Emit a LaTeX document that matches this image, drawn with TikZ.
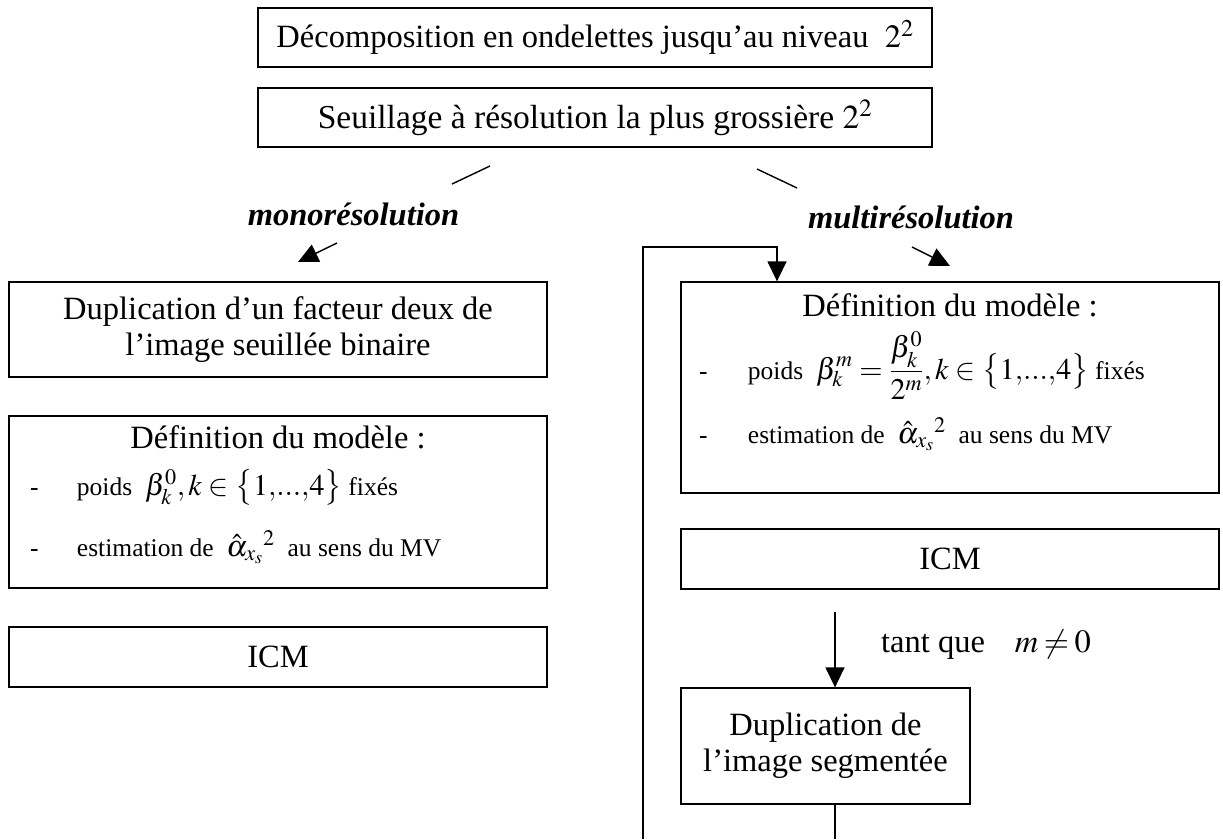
\documentclass[tikz,border=0pt]{standalone}
\usepackage{mathptmx}
\usepackage[no-math]{fontspec}
\setmainfont{Liberation Serif}
\usetikzlibrary{arrows.meta}
\newcommand\fA{\fontsize{32.5}{36}\selectfont}
\newcommand\fT{\fontsize{33.5}{37}\selectfont}
\newcommand\fB{\fontsize{25.5}{29}\selectfont}
\newcommand\fM{\fontsize{30}{33}\selectfont}
% a line whose baseline sits at a given distance; zero height and depth
\newcommand\defline[2]{\vskip#1\hbox{#2}}
\begin{document}
\begin{tikzpicture}[x=1pt,y=-1pt,
  box/.style={draw,line width=1.3pt,inner sep=0pt,align=center,font=\fA},
  txt/.style={inner sep=0pt,font=\fA},
  lbl/.style={inner sep=0pt,font=\fA\bfseries\itshape,anchor=base},
  ln/.style={line width=1.4pt},
  arr/.style={line width=1.4pt,-{Triangle[length=20pt,width=19pt]}}]
\useasboundingbox (0,0) rectangle (1223,839);
% top boxes
\node[box,minimum width=674pt,minimum height=59pt] (b1) at (595,37.5) {Décomposition en ondelettes jusqu’au niveau \ $2^2$};
\node[box,minimum width=674pt,minimum height=59pt,font=\fT] (b2) at (595,117.5) {Seuillage à résolution la plus grossière $2^2$};
% split lines
\coordinate (l1a) at (452,184); \coordinate (l1b) at (490,166);
\coordinate (r1a) at (757,169); \coordinate (r1b) at (797,188);
\draw[ln] (l1a) -- (l1b);
\draw[ln] (r1a) -- (r1b);
\node[lbl] (mono) at (353.5,225) {monorésolution};
\node[lbl] (multi) at (911,228) {multirésolution};
\coordinate (ma) at (337,243); \coordinate (mt) at (298,262);
\coordinate (pa) at (912,247); \coordinate (pt) at (950,266);
\draw[arr] (ma) -- (mt);
\draw[arr] (pa) -- (pt);
% left column
\node[box,minimum width=538pt,minimum height=95pt] (ldup) at (278,329.5) {Duplication d’un facteur deux de\\l’image seuillée binaire};
\node[box] (ldef) at (278,502) {\vbox to 172pt{\hsize=538pt\offinterlineskip
  \defline{32pt}{\hbox to 538pt{\hss\smash{\fA Définition du modèle :}\hss}}
  \defline{47pt}{\hskip21pt\smash{\fB\makebox[47pt][l]{-}poids \ {\fM$\beta_k^0, k\in\left\{\vphantom{\beta_k^0}1{,}...{,}4\right\}$} fixés}}
  \defline{61pt}{\hskip21pt\smash{\fB\makebox[47pt][l]{-}estimation de \ {\fM$\hat{\alpha}_{x_s}{}^{2}$} \ au sens du MV}}
  \vfil}};
\node[box,minimum width=538pt,minimum height=60pt] (licm) at (278,657) {ICM};
% right column
\node[box] (rdef) at (950,387.5) {\vbox to 211pt{\hsize=538pt\offinterlineskip
  \defline{34pt}{\hbox to 538pt{\hss\smash{\fA Définition du modèle :}\hss}}
  \defline{63pt}{\hskip18pt\smash{\fB\makebox[49pt][l]{-}poids \ {\fM$\displaystyle\beta_k^m=\frac{\beta_k^0}{2^m}, k\in\left\{\vphantom{\beta_k^0}1{,}...{,}4\right\}$} fixés}}
  \defline{64pt}{\hskip18pt\smash{\fB\makebox[49pt][l]{-}estimation de \ {\fM$\hat{\alpha}_{x_s}{}^{2}$} \ au sens du MV}}
  \vfil}};
\node[box,minimum width=538pt,minimum height=60pt] (ricm) at (950,559) {ICM};
\node[box,minimum width=289pt,minimum height=116pt] (rdup) at (825.5,746) {Duplication de\\l’image segmentée};
% tant que arrow
\coordinate (ts) at (835,612);
\draw[arr] (ts) -- (ts |- rdup.north);
\node[txt,anchor=base west] (tq) at (881,652) {tant que\hspace{30pt}$m\mskip3mu{\neq}\mskip3mu 0$};
% loop
\coordinate (lb) at (643,839); \coordinate (lt) at (643,247); \coordinate (rt) at (777,247);
\draw[arr] (lb) -- (lt) -- (rt) -- (rt |- rdef.north);
\coordinate (db) at (835,839);
\draw[ln] (db |- rdup.south) -- (db);
\end{tikzpicture}
\end{document}
